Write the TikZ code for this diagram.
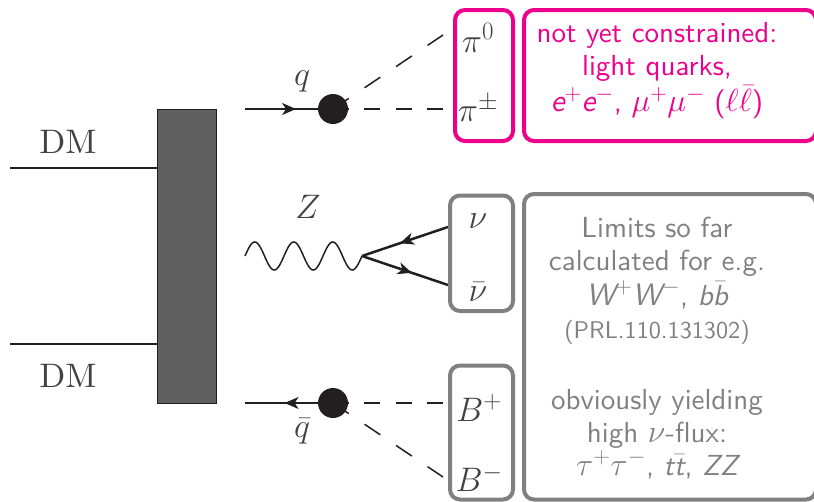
\documentclass[tikz,border=0pt]{standalone}
\usepackage{fix-cm}
\usetikzlibrary{arrows.meta,decorations.markings}
\definecolor{ink}{HTML}{231F20}
\definecolor{pinkc}{HTML}{EC008C}
\definecolor{greyc}{HTML}{808080}
\definecolor{barc}{HTML}{5F5F5F}
\DeclareMathSizes{34}{34}{25}{20}
\DeclareMathSizes{32}{32}{23}{18}
\font\dmfont="[lmroman10-regular]" at 34pt
\font\sfa="[lmsans10-regular]" at 29pt
\font\sfo="[lmsans10-oblique]" at 29pt
\font\sfb="[lmsans10-oblique]" at 31pt
\font\sfs="[lmsans10-regular]" at 24.2pt
\newcommand{\sfi}[1]{{\sfo #1}}
\newcommand{\sfj}[1]{{\sfb #1}}
\tikzset{
  x=1pt,y=-1pt,
  line/.style={draw=ink,line width=1.8pt},
  thinline/.style={draw=ink,line width=1.5pt},
  thickline/.style={draw=ink,line width=2.5pt},
  blob/.style={circle,fill=ink,minimum size=30pt,inner sep=0pt},
  frame/.style={draw=#1,line width=4pt,rounded corners=10pt},
  ltext/.style={text=ink!85,inner sep=0pt,font=\fontsize{34}{36}\selectfont},
  sftext/.style={inner sep=0pt,align=center,font=\fontsize{32}{33}\selectfont\sfa},
  midarrow/.style={postaction={decorate},decoration={markings,mark=at position #1 with {\arrow[ink]{Stealth[length=14pt,width=12pt,inset=4pt]}}}},
}
\begin{document}
\begin{tikzpicture}
\useasboundingbox (0,0) rectangle (814,501);
% bar
\node[draw=ink,line width=1.3pt,fill=barc,minimum width=59pt,minimum height=294pt,inner sep=0pt,anchor=north west] (bar) at (157,109) {};
\coordinate (dm1) at (10,168); \coordinate (dm2) at (10,344);
\draw[line] (dm1) -- (dm1-|bar.west);
\draw[line] (dm2) -- (dm2-|bar.west);
\node[ltext] (dml1) at (68,142) {\dmfont DM};
\node[ltext] (dml2) at (68,376) {\dmfont DM};
% top
\node[blob] (b1) at (333,109) {};
\coordinate (q1) at (245,109);
\coordinate (pa) at (443,35); \coordinate (pb) at (443,109);
\draw[thinline,midarrow=0.58] (q1) -- (b1.center);
\draw[thinline,dash pattern=on 19pt off 19pt] (b1.center) -- (pa);
\draw[thinline,dash pattern=on 15.7pt off 15.7pt] (b1.center) -- (pb);
\node[ltext] (ql) at (302,81) {$q$};
% Z
\coordinate (z0) at (245,256); \coordinate (zv) at (362,256);
\coordinate (n1) at (448,227); \coordinate (n2) at (448,285);
\draw[thinline,shift={(z0)}] plot[domain=0:117,samples=121,smooth] (\x,{-14*sin(\x*9.2308)});
\draw[thickline,midarrow=0.56] (n1) -- (zv);
\draw[thickline,midarrow=0.58] (zv) -- (n2);
\node[ltext] (zl) at (308,207) {$Z$};
% bottom
\node[blob] (b2) at (333,403) {};
\coordinate (q2) at (245,403);
\coordinate (pc) at (443,403); \coordinate (pd) at (443,477);
\draw[thinline,midarrow=0.55] (b2.center) -- (q2);
\draw[thinline,dash pattern=on 15.7pt off 15.7pt] (b2.center) -- (pc);
\draw[thinline,dash pattern=on 19pt off 19pt] (b2.center) -- (pd);
\node[ltext] (qbl) at (302,431) {$\bar q$};
% frames
\draw[frame=pinkc] (455,10) rectangle (513,141);
\draw[frame=pinkc] (524,10) rectangle (816,141);
\draw[frame=greyc] (450,195.5) rectangle (513,311);
\draw[frame=greyc] (450,365.5) rectangle (513,499.5);
\draw[frame=greyc] (524,194) rectangle (816,499.5);
% particle labels
\node[ltext] (p0) at (478,38) {$\pi^0$};
\node[ltext] (pp) at (478,108) {$\pi^\pm$};
\node[ltext] (nu) at (478,221) {$\nu$};
\node[ltext] (nb) at (478,292) {$\bar\nu$};
\node[ltext] (bp) at (479,408) {$B^+$};
\node[ltext] (bm) at (479,478) {$B^-$};
% text
\node[sftext,text=pinkc] (t1) at (657,71) {not yet constrained:\\ light quarks,\\[3pt] \sfj{e}$^+$\sfj{e}$^-$, $\mu^+\mu^-$ ($\ell\bar\ell$)};
\node[sftext,text=greyc] (t2) at (657,348) {Limits so far\\ calculated for e.g.\\[2pt] \sfj{W}$^+$\sfj{W}$^-$, \sfi{b}$\bar{\mbox{\sfi{b}}}$\\ {\sfs (PRL.110.131302)}\\[38pt] obviously yielding\\ high $\nu$-flux:\\ $\tau^+\tau^-$, \sfi{t}$\bar{\mbox{\sfi{t}}}$, \sfi{ZZ}};
\end{tikzpicture}
\end{document}
